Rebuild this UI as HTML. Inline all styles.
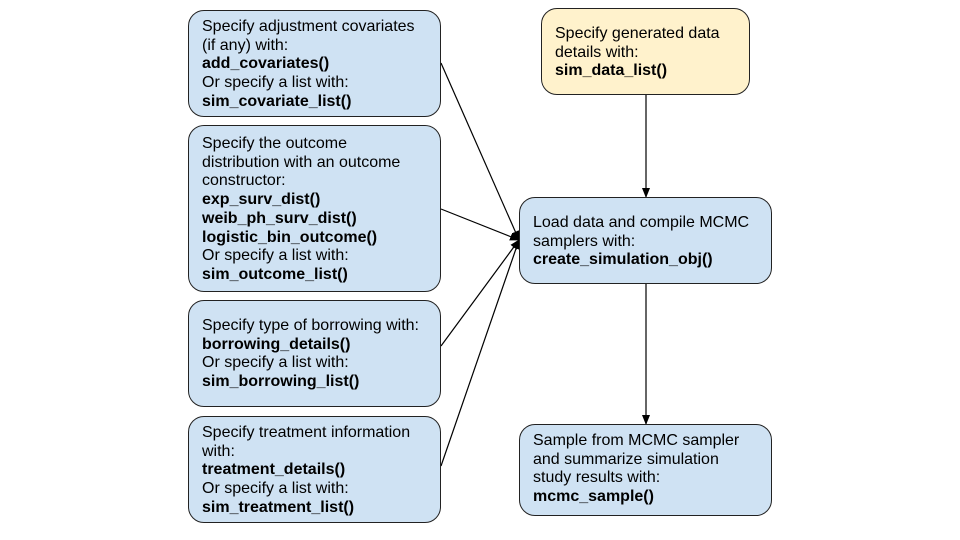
<!DOCTYPE html>
<html><head><meta charset="utf-8"><style>
body{margin:0;width:960px;height:540px;background:#fff;position:relative;overflow:hidden;font-family:"Liberation Sans",Arial,sans-serif;}
.b{position:absolute;box-sizing:border-box;border:1px solid #222;border-radius:16px;background:#cfe2f3;font-size:16px;line-height:18.7px;color:#000;padding-left:13px;white-space:nowrap;}
b{font-weight:bold}
svg{position:absolute;left:0;top:0}
</style></head><body>
<svg width="960" height="540">
<defs><marker id="a" markerWidth="10" markerHeight="8" refX="9" refY="4" orient="auto" markerUnits="userSpaceOnUse"><path d="M0,0 L10,4 L0,8 z" fill="#000"/></marker></defs>
<g stroke="#000" stroke-width="1.2" fill="none">
<line x1="441" y1="63" x2="519" y2="240" marker-end="url(#a)"/>
<line x1="441" y1="209" x2="519" y2="240" marker-end="url(#a)"/>
<line x1="441" y1="346" x2="519" y2="240" marker-end="url(#a)"/>
<line x1="441" y1="466" x2="519" y2="240" marker-end="url(#a)"/>
<line x1="646" y1="95" x2="646" y2="197" marker-end="url(#a)"/>
<line x1="646" y1="284" x2="646" y2="424" marker-end="url(#a)"/>
</g></svg>
<div class="b" style="left:188px;top:10px;width:253px;height:107px;padding-top:7px">Specify adjustment covariates<br>(if any) with:<br><b>add_covariates()</b><br>Or specify a list with:<br><b>sim_covariate_list()</b></div>
<div class="b" style="left:188px;top:125px;width:253px;height:167px;padding-top:9px">Specify the outcome<br>distribution with an outcome<br>constructor:<br><b>exp_surv_dist()</b><br><b>weib_ph_surv_dist()</b><br><b>logistic_bin_outcome()</b><br>Or specify a list with:<br><b>sim_outcome_list()</b></div>
<div class="b" style="left:188px;top:300px;width:253px;height:107px;padding-top:16px">Specify type of borrowing with:<br><b>borrowing_details()</b><br>Or specify a list with:<br><b>sim_borrowing_list()</b></div>
<div class="b" style="left:188px;top:416px;width:253px;height:107px;padding-top:7px">Specify treatment information<br>with:<br><b>treatment_details()</b><br>Or specify a list with:<br><b>sim_treatment_list()</b></div>
<div class="b" style="left:541px;top:8px;width:209px;height:87px;padding-top:16px;background:#fff2cc">Specify generated data<br>details with:<br><b>sim_data_list()</b></div>
<div class="b" style="left:519px;top:197px;width:253px;height:87px;padding-top:16px">Load data and compile MCMC<br>samplers with:<br><b>create_simulation_obj()</b></div>
<div class="b" style="left:519px;top:424px;width:253px;height:92px;padding-top:7px">Sample from MCMC sampler<br>and summarize simulation<br>study results with:<br><b>mcmc_sample()</b></div>
</body></html>
